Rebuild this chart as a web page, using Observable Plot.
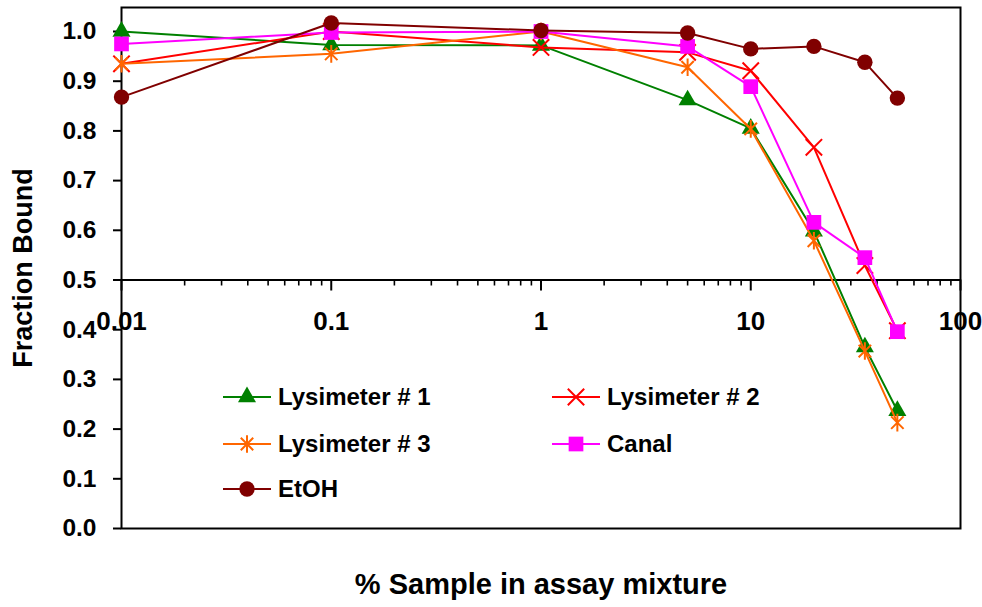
<!DOCTYPE html>
<html><head><meta charset="utf-8">
<script src="https://cdn.jsdelivr.net/npm/d3@7"></script>
<script src="https://cdn.jsdelivr.net/npm/@observablehq/plot@0.6"></script>
<style>
body{margin:0;background:#fff;}
#wrap{position:relative;width:982px;height:607px;font-family:"Liberation Sans",Arial,sans-serif;font-weight:bold;}
#wrap svg{font-family:"Liberation Sans",Arial,sans-serif;font-weight:bold;}
.leg{position:absolute;display:flex;align-items:center;height:30px;font-size:24px;color:#000;white-space:nowrap;}
.leg svg{margin-right:7px;overflow:visible;}
</style></head><body><div id="wrap"></div>
<script>
// ---- data ----
const concentrations = [0.01, 0.1, 1, 5, 10, 20, 35, 50];
const seriesNames = ["Lysimeter # 1", "Lysimeter # 2", "Lysimeter # 3", "Canal", "EtOH"];
const lysimeter1 = [1.000, 0.973, 0.972, 0.862, 0.805, 0.598, 0.365, 0.237];
const lysimeter2 = [0.935, 1.000, 0.968, 0.958, 0.921, 0.767, 0.529, 0.398];
const lysimeter3 = [0.935, 0.955, 1.000, 0.928, 0.804, 0.579, 0.357, 0.213];
const canal      = [0.975, 0.998, 1.000, 0.970, 0.889, 0.616, 0.545, 0.396];
const etoh       = [0.868, 1.017, 1.002, 0.997, 0.965, 0.970, 0.938, 0.866];
const seriesColors = ["#008000", "#FF0000", "#FF6600", "#FF00FF", "#800000"];
const seriesSymbols = ["triangle", "times", "asterisk", "square", "circle"];
const xTickValues = [0.01, 0.1, 1, 10, 100];
const xTickLabels = ["0.01", "0.1", "1", "10", "100"];
const yTickValues = [0, 0.1, 0.2, 0.3, 0.4, 0.5, 0.6, 0.7, 0.8, 0.9, 1.0];
const xTitle = "% Sample in assay mixture";
const yTitle = "Fraction Bound";

// ---- build table ----
const seriesValues = [lysimeter1, lysimeter2, lysimeter3, canal, etoh];
const table = [];
seriesNames.forEach((name, s) => {
  concentrations.forEach((c, i) => table.push({series: name, x: c, y: seriesValues[s][i]}));
});
const minorTicks = [];
[0.01, 0.1, 1, 10].forEach(d => { for (let k = 2; k <= 9; k++) minorTicks.push(+(d * k).toPrecision(3)); });
const xTickData = xTickValues.map((v, i) => ({v, label: xTickLabels[i]}));

// Excel-style asterisk: an X plus a vertical bar
const excelStar = {
  draw(context, size) {
    const r = Math.sqrt(size / Math.PI);
    const u = r * Math.SQRT1_2;
    context.moveTo(-u, -u); context.lineTo(u, u);
    context.moveTo(-u, u); context.lineTo(u, -u);
    context.moveTo(0, -r); context.lineTo(0, r);
  }
};
const symbolObjects = {triangle: d3.symbolTriangle, times: d3.symbolTimes, asterisk: excelStar, square: d3.symbolSquare, circle: d3.symbolCircle};
const symbolSize = {triangle: 6.7, times: 7.5, asterisk: 8.8, square: 8.3, circle: 7.7};
const filled = {triangle: true, times: false, asterisk: false, square: true, circle: true};

const marks = [
  Plot.frame({stroke: "black", strokeWidth: 2}),
  Plot.ruleY([0.5], {stroke: "black", strokeWidth: 2}),
  Plot.ruleX(minorTicks, {x: d => d, y1: () => 0.5, y2: () => 0.5, insetTop: 0, insetBottom: -6, stroke: "black", strokeWidth: 1.6}),
  Plot.ruleX(xTickValues, {x: d => d, y1: () => 0.5, y2: () => 0.5, insetTop: 0, insetBottom: -11, stroke: "black", strokeWidth: 2}),
  Plot.text(xTickData, {x: "v", y: () => 0.5, text: "label", dy: 42, fontSize: 26, fill: "black"}),
  Plot.axisY(yTickValues, {tickFormat: d => d.toFixed(1), tickSize: 8, tickPadding: 17, fontSize: 24.5, strokeWidth: 2, label: null}),
  Plot.text([yTitle], {frameAnchor: "left", textAnchor: "middle", lineAnchor: "middle", rotate: -90, dx: -98, fontSize: 27, fill: "black"}),
  Plot.text([xTitle], {frameAnchor: "bottom", textAnchor: "middle", lineAnchor: "middle", dy: 56, fontSize: 29, fill: "black"})
];
seriesNames.forEach((name, s) => {
  const data = table.filter(d => d.series === name);
  const sym = seriesSymbols[s];
  const col = seriesColors[s];
  marks.push(Plot.line(data, {x: "x", y: "y", stroke: col, strokeWidth: 2}));
  marks.push(Plot.dot(data, {
    x: "x", y: "y", symbol: symbolObjects[sym], r: symbolSize[sym],
    fill: filled[sym] ? col : "none",
    stroke: filled[sym] ? "none" : col,
    strokeWidth: 2
  }));
});

const chart = Plot.plot({
  width: 982, height: 607,
  marginLeft: 121, marginRight: 22, marginTop: 7, marginBottom: 79,
  x: {type: "log", domain: [0.01, 100], range: [121, 960], axis: null},
  y: {domain: [0, 1], range: [528, 31], axis: null},
  style: {background: "white", fontSize: "24px", overflow: "visible"},
  marks
});
const wrap = document.getElementById("wrap");
wrap.appendChild(chart);

// ---- legend (HTML overlay) ----
const legendSlots = [[223, 397], [552, 397], [223, 444], [552, 444], [223, 489]];
seriesNames.forEach((name, s) => {
  const [lx, ly] = legendSlots[s];
  const div = document.createElement("div");
  div.className = "leg";
  div.style.left = lx + "px";
  div.style.top = (ly - 15) + "px";
  const sym = seriesSymbols[s];
  const col = seriesColors[s];
  const r = symbolSize[sym];
  const path = d3.symbol(symbolObjects[sym], r * r * Math.PI)();
  div.innerHTML = `<svg width="48" height="30" viewBox="0 0 48 30">
    <line x1="0" x2="48" y1="15" y2="15" stroke="${col}" stroke-width="2"/>
    <path transform="translate(24,15)" d="${path}" fill="${filled[sym] ? col : "none"}" stroke="${filled[sym] ? "none" : col}" stroke-width="2"/>
  </svg><span>${name}</span>`;
  wrap.appendChild(div);
});
</script></body></html>
